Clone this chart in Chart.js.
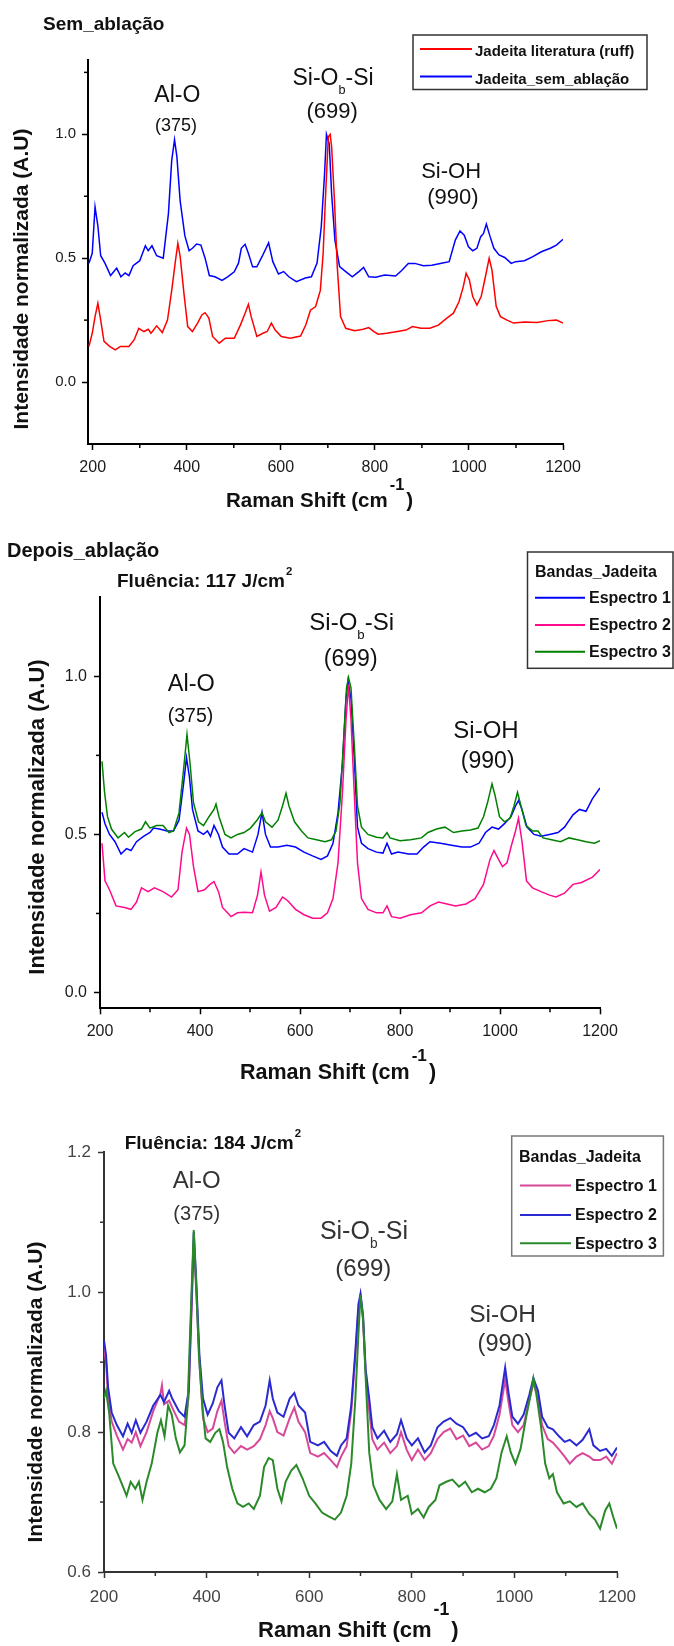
<!DOCTYPE html>
<html><head><meta charset="utf-8">
<script src="https://cdn.jsdelivr.net/npm/chart.js@4.4.0/dist/chart.umd.min.js"></script>
<style>
html,body{margin:0;padding:0;background:#fff;}
body{width:674px;height:1646px;position:relative;overflow:hidden;}
.panel{position:absolute;left:0;width:674px;}
</style></head><body>
<div class="panel" style="top:0;height:520px"><canvas id="c1"></canvas></div>
<div class="panel" style="top:520px;height:580px"><canvas id="c2"></canvas></div>
<div class="panel" style="top:1100px;height:546px"><canvas id="c3"></canvas></div>
<script>
// ---------- DATA ----------
const xTickVals = [200, 400, 600, 800, 1000, 1200];
const xMinorVals = [300, 500, 700, 900, 1100];
const y12TickVals = [0.0, 0.5, 1.0];
const y12TickLabels = ['0.0', '0.5', '1.0'];
const y1MinorVals = [0.25, 0.75, 1.25];
const y2MinorVals = [0.25, 0.75];
const y3TickVals = [0.6, 0.8, 1.0, 1.2];
const y3TickLabels = ['0.6', '0.8', '1.0', '1.2'];
const y3MinorVals = [0.7, 0.9, 1.1];

const p1Labels = ['Jadeita literatura (ruff)', 'Jadeita_sem_ablação'];
const specLabels = ['Espectro 1', 'Espectro 2', 'Espectro 3'];

// Panel 1 : Sem_ablação  [Raman shift, intensity]
const p1Red = [[192,0.144],[199,0.197],[205,0.264],[211,0.318],[217,0.25],[224,0.164],[236,0.144],[248,0.13],[259,0.144],[277,0.144],[288,0.17],[298,0.217],[309,0.204],[318,0.213],[324,0.197],[336,0.227],[348,0.20],[359,0.25],[368,0.37],[376,0.49],[381,0.56],[386,0.506],[394,0.358],[402,0.224],[412,0.204],[423,0.238],[432,0.271],[439,0.28],[447,0.258],[455,0.184],[469,0.157],[482,0.177],[501,0.177],[514,0.23],[524,0.278],[531,0.314],[537,0.264],[549,0.184],[562,0.197],[571,0.204],[580,0.238],[588,0.21],[601,0.184],[620,0.177],[642,0.186],[653,0.23],[663,0.29],[674,0.305],[684,0.37],[690,0.52],[695,0.748],[701,0.99],[705,1.0],[708,0.95],[714,0.735],[720,0.466],[727,0.264],[738,0.217],[757,0.207],[775,0.213],[787,0.22],[798,0.204],[807,0.193],[825,0.197],[848,0.204],[866,0.21],[880,0.224],[898,0.217],[917,0.217],[935,0.23],[953,0.258],[967,0.278],[979,0.325],[988,0.385],[994,0.439],[1001,0.412],[1008,0.345],[1017,0.311],[1026,0.345],[1035,0.425],[1043,0.50],[1049,0.452],[1058,0.305],[1067,0.264],[1081,0.25],[1095,0.238],[1118,0.242],[1145,0.24],[1168,0.248],[1186,0.25],[1200,0.238]];
const p1Blue = [[192,0.48],[199,0.52],[205,0.707],[211,0.63],[217,0.51],[226,0.48],[238,0.43],[251,0.46],[260,0.425],[269,0.44],[277,0.43],[286,0.47],[300,0.49],[312,0.55],[318,0.53],[326,0.55],[336,0.51],[350,0.50],[361,0.68],[368,0.895],[374,0.978],[379,0.91],[386,0.73],[396,0.59],[405,0.53],[412,0.54],[421,0.557],[430,0.553],[439,0.50],[448,0.43],[460,0.425],[475,0.41],[487,0.425],[501,0.445],[510,0.48],[516,0.54],[524,0.556],[531,0.52],[540,0.465],[549,0.465],[560,0.506],[574,0.562],[583,0.486],[595,0.436],[606,0.446],[617,0.425],[633,0.405],[652,0.42],[665,0.425],[677,0.48],[686,0.627],[693,0.84],[697,1.0],[703,0.96],[708,0.76],[715,0.573],[725,0.466],[738,0.446],[752,0.425],[766,0.446],[776,0.463],[787,0.425],[802,0.423],[821,0.432],[844,0.428],[857,0.45],[871,0.479],[885,0.479],[903,0.47],[921,0.472],[939,0.479],[958,0.486],[971,0.573],[981,0.61],[990,0.593],[999,0.546],[1008,0.53],[1017,0.54],[1025,0.587],[1031,0.60],[1037,0.638],[1045,0.587],[1053,0.54],[1064,0.513],[1076,0.503],[1090,0.479],[1099,0.486],[1118,0.49],[1136,0.506],[1154,0.526],[1173,0.54],[1186,0.553],[1200,0.576]];

// Panel 2 : Depois_ablação, 117 J/cm2
const p2Esp1 = [[204,0.57],[210,0.534],[219,0.50],[230,0.477],[242,0.438],[253,0.455],[262,0.449],[273,0.477],[287,0.494],[300,0.506],[307,0.52],[319,0.517],[334,0.511],[347,0.511],[358,0.545],[367,0.658],[373,0.743],[379,0.68],[385,0.579],[396,0.511],[407,0.50],[415,0.511],[421,0.494],[428,0.528],[437,0.50],[445,0.46],[458,0.438],[475,0.438],[488,0.455],[505,0.444],[516,0.50],[524,0.57],[531,0.50],[541,0.46],[556,0.46],[574,0.466],[591,0.46],[608,0.444],[625,0.432],[642,0.421],[655,0.432],[666,0.472],[676,0.568],[685,0.726],[692,0.93],[696,0.985],[702,0.93],[709,0.726],[715,0.523],[723,0.472],[736,0.455],[753,0.444],[766,0.441],[774,0.472],[783,0.438],[796,0.444],[817,0.438],[834,0.438],[847,0.46],[860,0.477],[881,0.472],[903,0.466],[924,0.46],[941,0.46],[958,0.472],[971,0.506],[984,0.523],[997,0.517],[1009,0.534],[1022,0.556],[1031,0.59],[1037,0.607],[1044,0.579],[1054,0.523],[1068,0.50],[1082,0.494],[1099,0.50],[1116,0.506],[1129,0.523],[1146,0.562],[1159,0.579],[1172,0.573],[1185,0.613],[1200,0.647]];
const p2Esp2 = [[204,0.472],[210,0.353],[219,0.325],[232,0.274],[249,0.269],[262,0.263],[273,0.286],[283,0.331],[296,0.319],[309,0.331],[326,0.319],[343,0.302],[356,0.325],[364,0.444],[373,0.52],[379,0.50],[387,0.398],[396,0.319],[409,0.325],[420,0.342],[428,0.351],[437,0.319],[445,0.269],[462,0.24],[475,0.252],[488,0.254],[505,0.252],[515,0.308],[522,0.381],[529,0.308],[539,0.257],[552,0.269],[565,0.302],[575,0.291],[591,0.263],[608,0.246],[625,0.235],[642,0.235],[655,0.252],[666,0.297],[676,0.41],[685,0.635],[692,0.861],[697,0.974],[702,0.861],[709,0.613],[715,0.41],[723,0.297],[736,0.263],[753,0.252],[766,0.252],[774,0.274],[783,0.24],[800,0.235],[821,0.246],[843,0.252],[860,0.274],[877,0.286],[894,0.28],[911,0.274],[932,0.28],[950,0.297],[967,0.342],[980,0.421],[988,0.449],[997,0.421],[1005,0.398],[1014,0.41],[1022,0.46],[1031,0.511],[1037,0.551],[1044,0.477],[1053,0.353],[1065,0.331],[1082,0.319],[1099,0.308],[1112,0.302],[1129,0.314],[1146,0.342],[1163,0.348],[1185,0.365],[1200,0.389]];
const p2Esp3 = [[204,0.731],[209,0.635],[215,0.556],[223,0.517],[236,0.489],[249,0.506],[257,0.491],[270,0.509],[283,0.517],[291,0.54],[300,0.52],[313,0.528],[326,0.528],[338,0.506],[347,0.511],[358,0.568],[367,0.703],[374,0.816],[380,0.726],[387,0.60],[397,0.54],[407,0.528],[418,0.556],[428,0.579],[432,0.596],[438,0.556],[450,0.50],[462,0.489],[475,0.50],[488,0.506],[501,0.52],[514,0.545],[524,0.568],[531,0.54],[544,0.523],[556,0.545],[565,0.59],[572,0.63],[578,0.59],[589,0.54],[603,0.511],[616,0.489],[633,0.483],[650,0.477],[663,0.483],[672,0.511],[680,0.60],[687,0.793],[693,0.963],[697,0.997],[702,0.963],[709,0.771],[715,0.59],[723,0.523],[736,0.50],[753,0.491],[766,0.489],[774,0.506],[780,0.489],[800,0.48],[821,0.483],[843,0.489],[856,0.506],[873,0.517],[890,0.523],[907,0.506],[924,0.511],[941,0.514],[956,0.52],[967,0.556],[975,0.60],[984,0.66],[990,0.624],[999,0.556],[1009,0.54],[1020,0.551],[1028,0.59],[1035,0.633],[1042,0.59],[1052,0.528],[1065,0.511],[1076,0.511],[1086,0.489],[1103,0.483],[1121,0.477],[1138,0.489],[1155,0.483],[1172,0.477],[1189,0.472],[1200,0.48]];

// Panel 3 : 184 J/cm2
const p3Esp1 = [[200,0.92],[204,0.90],[208,0.85],[215,0.815],[225,0.795],[237,0.775],[246,0.79],[254,0.785],[262,0.80],[271,0.78],[283,0.80],[296,0.83],[310,0.855],[313,0.867],[317,0.84],[327,0.845],[333,0.835],[346,0.815],[357,0.81],[365,0.85],[371,0.98],[375,1.07],[380,1.0],[386,0.90],[393,0.82],[402,0.80],[412,0.805],[421,0.83],[429,0.845],[435,0.815],[443,0.78],[454,0.77],[467,0.78],[479,0.775],[492,0.78],[504,0.79],[515,0.81],[523,0.83],[529,0.82],[538,0.80],[550,0.795],[562,0.82],[571,0.835],[579,0.815],[592,0.80],[602,0.77],[617,0.765],[629,0.77],[642,0.76],[654,0.75],[662,0.765],[673,0.78],[682,0.83],[690,0.91],[696,0.975],[700,0.995],[705,0.96],[710,0.885],[717,0.83],[723,0.79],[733,0.775],[746,0.785],[758,0.77],[771,0.78],[779,0.80],[790,0.775],[800,0.76],[812,0.775],[825,0.76],[837,0.77],[850,0.79],[862,0.80],[875,0.805],[887,0.79],[900,0.795],[912,0.78],[925,0.785],[937,0.775],[950,0.78],[960,0.795],[971,0.825],[982,0.875],[988,0.845],[996,0.81],[1007,0.80],[1018,0.81],[1029,0.845],[1037,0.87],[1046,0.85],[1054,0.81],[1065,0.79],[1075,0.785],[1087,0.775],[1098,0.765],[1108,0.755],[1121,0.765],[1133,0.77],[1146,0.765],[1154,0.76],[1167,0.76],[1179,0.765],[1190,0.755],[1200,0.77]];
const p3Esp2 = [[200,0.931],[204,0.91],[208,0.864],[215,0.828],[225,0.81],[237,0.794],[246,0.812],[254,0.799],[262,0.817],[271,0.799],[283,0.815],[296,0.838],[310,0.853],[317,0.843],[327,0.859],[333,0.848],[346,0.83],[357,0.822],[365,0.859],[371,0.993],[375,1.086],[380,1.014],[386,0.91],[393,0.848],[402,0.825],[412,0.841],[421,0.864],[429,0.874],[435,0.838],[443,0.799],[454,0.791],[467,0.807],[479,0.794],[492,0.81],[504,0.815],[515,0.838],[523,0.874],[529,0.848],[538,0.828],[550,0.822],[562,0.848],[571,0.856],[579,0.838],[592,0.828],[602,0.786],[617,0.781],[629,0.786],[642,0.773],[654,0.766],[662,0.781],[673,0.791],[682,0.838],[690,0.916],[696,0.983],[700,0.998],[705,0.967],[710,0.89],[717,0.848],[723,0.807],[733,0.791],[746,0.802],[758,0.786],[771,0.797],[779,0.817],[790,0.791],[800,0.781],[812,0.791],[825,0.771],[837,0.781],[850,0.807],[862,0.815],[875,0.82],[887,0.812],[900,0.807],[912,0.794],[925,0.799],[937,0.791],[950,0.794],[960,0.81],[971,0.838],[982,0.892],[988,0.859],[996,0.822],[1007,0.812],[1018,0.825],[1029,0.853],[1037,0.877],[1046,0.859],[1054,0.822],[1065,0.807],[1075,0.804],[1087,0.794],[1098,0.786],[1108,0.789],[1121,0.781],[1133,0.789],[1146,0.804],[1154,0.781],[1167,0.773],[1179,0.776],[1190,0.766],[1200,0.778]];
const p3Esp3 = [[200,0.848],[204,0.859],[210,0.828],[218,0.755],[227,0.74],[236,0.724],[244,0.709],[252,0.729],[261,0.719],[268,0.729],[275,0.703],[283,0.729],[293,0.755],[304,0.799],[311,0.817],[318,0.794],[325,0.838],[332,0.825],[340,0.791],[348,0.771],[357,0.781],[363,0.838],[369,0.967],[375,1.089],[380,1.004],[385,0.91],[392,0.835],[398,0.791],[407,0.786],[417,0.799],[425,0.804],[432,0.786],[440,0.75],[450,0.719],[460,0.698],[471,0.693],[482,0.698],[492,0.69],[504,0.709],[512,0.75],[521,0.763],[529,0.76],[538,0.719],[546,0.701],[554,0.729],[565,0.745],[575,0.753],[587,0.734],[600,0.709],[612,0.698],[625,0.685],[637,0.68],[650,0.675],[662,0.685],[673,0.709],[682,0.755],[690,0.848],[696,0.941],[700,0.996],[705,0.962],[710,0.879],[717,0.771],[725,0.724],[737,0.703],[750,0.69],[762,0.701],[771,0.74],[779,0.703],[792,0.709],[800,0.683],[812,0.69],[823,0.678],[833,0.693],[846,0.703],[854,0.724],[867,0.729],[879,0.732],[892,0.722],[904,0.729],[917,0.714],[929,0.719],[942,0.714],[954,0.719],[965,0.734],[975,0.771],[985,0.794],[993,0.771],[1002,0.755],[1012,0.776],[1023,0.822],[1033,0.859],[1037,0.877],[1043,0.853],[1052,0.807],[1060,0.755],[1068,0.734],[1075,0.74],[1083,0.714],[1096,0.698],[1108,0.701],[1121,0.693],[1133,0.698],[1146,0.683],[1157,0.675],[1167,0.662],[1177,0.688],[1185,0.698],[1193,0.678],[1200,0.662]];

// ---------- RENDERING ----------
const FONT = '"Liberation Sans", Arial, Helvetica, sans-serif';
const W = 674;
function setFont(ctx, size, bold) { ctx.font = (bold ? 'bold ' : '') + size + 'px ' + FONT; }
function text(ctx, s, x, y, size, bold, color, align) {
  ctx.save(); setFont(ctx, size, bold); ctx.fillStyle = color;
  ctx.textAlign = align || 'left'; ctx.textBaseline = 'middle'; ctx.fillText(s, x, y); ctx.restore();
}
function tw(ctx, s, size, bold) { ctx.save(); setFont(ctx, size, bold); const w = ctx.measureText(s).width; ctx.restore(); return w; }
function toXY(arr) { return arr.map(p => ({ x: p[0], y: p[1] })); }

const decorPlugin = {
  id: 'decor',
  afterDraw(chart) {
    const d = chart.options.plugins.decor;
    const ctx = chart.ctx, xs = chart.scales.x, ys = chart.scales.y, a = chart.chartArea;
    ctx.save(); ctx.strokeStyle = d.axisColor; ctx.lineWidth = 1.5;
    d.xMinor.forEach(v => { const px = xs.getPixelForValue(v); ctx.beginPath(); ctx.moveTo(px, a.bottom); ctx.lineTo(px, a.bottom + 4); ctx.stroke(); });
    d.yMinor.forEach(v => { const py = ys.getPixelForValue(v); ctx.beginPath(); ctx.moveTo(a.left, py); ctx.lineTo(a.left - 4, py); ctx.stroke(); });
    ctx.restore();
    (d.titles || []).forEach(t => {
      text(ctx, t.text, t.x, t.y, t.size, true, '#111');
      if (t.sup) { const w = tw(ctx, t.text, t.size, true); text(ctx, t.sup, t.x + w + 1, t.y - t.size * 0.5, t.size * 0.6, true, '#111'); }
    });
    d.notes.forEach(n => {
      const cx = xs.getPixelForValue(n.x), cy = ys.getPixelForValue(n.y);
      const parts = n.parts;
      let total = 0;
      parts.forEach(p => { p.w = tw(ctx, p.t, p.sub ? n.size * 0.55 : n.size, false); total += p.w; });
      let x = cx - total / 2;
      parts.forEach(p => {
        if (p.sub) text(ctx, p.t, x, cy + n.size * 0.5, n.size * 0.55, false, d.noteColor);
        else text(ctx, p.t, x, cy, n.size, false, d.noteColor);
        x += p.w;
      });
    });
    const xt = d.xTitle;
    const w1 = tw(ctx, 'Raman Shift (cm', xt.size, true);
    text(ctx, 'Raman Shift (cm', xt.x, xt.y, xt.size, true, '#111');
    const supSize = xt.size * 0.8;
    text(ctx, '-1', xt.x + w1 + 2, xt.y - xt.dy, supSize, true, '#111');
    const w2 = tw(ctx, '-1', supSize, true);
    text(ctx, ')', xt.x + w1 + 4 + w2, xt.y, xt.size, true, '#111');
    ctx.save(); ctx.translate(d.yTitle.x, d.yTitle.y); ctx.rotate(-Math.PI / 2);
    text(ctx, 'Intensidade normalizada (A.U)', 0, 0, d.yTitle.size, true, '#111', 'center');
    ctx.restore();
    const L = d.legend;
    ctx.save(); ctx.strokeStyle = L.border; ctx.lineWidth = 1.5;
    ctx.strokeRect(L.l, L.t, L.r - L.l, L.b - L.t); ctx.restore();
    if (L.title) text(ctx, L.title, L.title_x, L.title_y, L.size, true, '#111');
    L.items.forEach(it => {
      ctx.save(); ctx.strokeStyle = it.color; ctx.lineWidth = 2;
      ctx.beginPath(); ctx.moveTo(L.x1, it.y); ctx.lineTo(L.x2, it.y); ctx.stroke(); ctx.restore();
      text(ctx, it.label, L.tx, it.y + L.dy, L.size, true, '#111');
    });
  }
};

function makeChart(id, H, area, xr, yr, yTicks, yLabels, tickFont, datasets, decor) {
  const axisColor = decor.axisColor;
  return new Chart(document.getElementById(id), {
    type: 'line',
    data: { datasets },
    plugins: [decorPlugin],
    options: {
      responsive: true, maintainAspectRatio: false, animation: false, devicePixelRatio: 1,
      layout: { padding: { left: 0, top: area.t, right: W - area.r, bottom: 0 } },
      elements: { point: { radius: 0 }, line: { tension: 0 } },
      plugins: { legend: { display: false }, tooltip: { enabled: false }, decor },
      scales: {
        x: {
          type: 'linear', min: xr[0], max: xr[1],
          afterFit: s => { s.height = H - area.b; },
          afterBuildTicks: s => { s.ticks = xTickVals.map(v => ({ value: v })); },
          ticks: { color: tickFont.color, font: { family: FONT, size: tickFont.x }, padding: tickFont.xPad, maxRotation: 0, autoSkip: false, callback: v => String(v) },
          grid: { display: true, drawOnChartArea: false, drawTicks: true, tickLength: 6, tickWidth: 1.5, tickColor: axisColor },
          border: { display: true, color: axisColor, width: 2 }
        },
        y: {
          type: 'linear', min: yr[0], max: yr[1],
          afterFit: s => { s.width = area.l; },
          afterBuildTicks: s => { s.ticks = yTicks.map(v => ({ value: v })); },
          ticks: { color: tickFont.color, font: { family: FONT, size: tickFont.y }, padding: tickFont.yPad, autoSkip: false, callback: v => yLabels[yTicks.findIndex(t => Math.abs(t - v) < 1e-6)] },
          grid: { display: true, drawOnChartArea: false, drawTicks: true, tickLength: 6, tickWidth: 1.5, tickColor: axisColor },
          border: { display: true, color: axisColor, width: 2 }
        }
      }
    }
  });
}

function siob(size, x, y) { return { x, y, size, parts: [{ t: 'Si-O' }, { t: 'b', sub: true }, { t: '-Si' }] }; }
function plain(s, size, x, y) { return { x, y, size, parts: [{ t: s }] }; }

// Panel 1
makeChart('c1', 520, { l: 88, r: 563, t: 60, b: 444 }, [190, 1200], [-0.25, 1.3], y12TickVals, y12TickLabels,
  { x: 16, y: 15, color: '#1a1a1a', xPad: 8, yPad: 6 },
  [
    { data: toXY(p1Blue), borderColor: '#0000ff', borderWidth: 1.5, order: 2 },
    { data: toXY(p1Red), borderColor: '#ff0000', borderWidth: 1.5, order: 1 }
  ],
  {
    axisColor: '#000', noteColor: '#111', xMinor: xMinorVals, yMinor: y1MinorVals,
    titles: [{ text: 'Sem_ablação', x: 43, y: 25, size: 19 }],
    notes: [plain('Al-O', 23, 380, 1.155), plain('(375)', 18, 377, 1.034), siob(23, 711, 1.225), plain('(699)', 22, 709, 1.09), plain('Si-OH', 22, 962, 0.849), plain('(990)', 22, 966, 0.743)],
    xTitle: { x: 226, y: 501, size: 20.5, dy: 16 },
    yTitle: { x: 22, y: 279, size: 21 },
    legend: { l: 413, t: 35, r: 647, b: 89.5, border: '#333', size: 15, x1: 420, x2: 472, tx: 475, dy: 3,
      items: [{ label: p1Labels[0], color: '#ff0000', y: 49 }, { label: p1Labels[1], color: '#0000ff', y: 76.5 }] }
  });

// Panel 2
makeChart('c2', 580, { l: 100, r: 600, t: 77.3, b: 488.3 }, [200, 1200], [-0.05, 1.25], y12TickVals, y12TickLabels,
  { x: 16, y: 16, color: '#1a1a1a', xPad: 8, yPad: 7 },
  [
    { data: toXY(p2Esp2), borderColor: '#ff0a8c', borderWidth: 1.5, order: 1 },
    { data: toXY(p2Esp3), borderColor: '#008000', borderWidth: 1.5, order: 2 },
    { data: toXY(p2Esp1), borderColor: '#0000ff', borderWidth: 1.5, order: 3 }
  ],
  {
    axisColor: '#000', noteColor: '#111', xMinor: xMinorVals, yMinor: y2MinorVals,
    titles: [{ text: 'Depois_ablação', x: 7, y: 31.7, size: 20 }, { text: 'Fluência: 117 J/cm', sup: '2', x: 117, y: 61.7, size: 19 }],
    notes: [plain('Al-O', 23.5, 382.6, 0.973), plain('(375)', 19.5, 381, 0.872), siob(24, 703.4, 1.168), plain('(699)', 23, 701.4, 1.052), plain('Si-OH', 24, 972, 0.825), plain('(990)', 23, 975.4, 0.73)],
    xTitle: { x: 240, y: 553.3, size: 21.5, dy: 17.5 },
    yTitle: { x: 37.5, y: 297, size: 22 },
    legend: { l: 527.5, t: 32, r: 673, b: 148.3, border: '#333', size: 16, title: 'Bandas_Jadeita', title_x: 535, title_y: 52.5,
      x1: 535, x2: 585, tx: 589, dy: 1,
      items: [{ label: specLabels[0], color: '#0000ff', y: 77.8 }, { label: specLabels[1], color: '#ff0a8c', y: 105 }, { label: specLabels[2], color: '#008000', y: 131.7 }] }
  });

// Panel 3
makeChart('c3', 546, { l: 104, r: 617, t: 52.3, b: 472 }, [200, 1200], [0.6, 1.2], y3TickVals, y3TickLabels,
  { x: 17, y: 17, color: '#444', xPad: 9, yPad: 7 },
  [
    { data: toXY(p3Esp3), borderColor: '#2a8a2a', borderWidth: 2, order: 1 },
    { data: toXY(p3Esp2), borderColor: '#2a2ad0', borderWidth: 2, order: 2 },
    { data: toXY(p3Esp1), borderColor: '#d8489a', borderWidth: 2, order: 3 }
  ],
  {
    axisColor: '#333', noteColor: '#333', xMinor: xMinorVals, yMinor: y3MinorVals,
    titles: [{ text: 'Fluência: 184 J/cm', sup: '2', x: 124.7, y: 43.3, size: 19 }],
    notes: [plain('Al-O', 24, 380.7, 1.158), plain('(375)', 20, 380.7, 1.111), siob(25, 706.8, 1.0865), plain('(699)', 24, 705.5, 1.033), plain('Si-OH', 24.5, 977, 0.967), plain('(990)', 23.5, 981.7, 0.925)],
    xTitle: { x: 258, y: 530.5, size: 22, dy: 20 },
    yTitle: { x: 36.5, y: 292, size: 21 },
    legend: { l: 511.7, t: 36, r: 663.4, b: 156, border: '#777', size: 16, title: 'Bandas_Jadeita', title_x: 519, title_y: 57.6,
      x1: 520, x2: 571, tx: 575, dy: 1,
      items: [{ label: specLabels[0], color: '#d8489a', y: 85.4 }, { label: specLabels[1], color: '#2a2ad0', y: 115 }, { label: specLabels[2], color: '#2a8a2a', y: 143.3 }] }
  });
</script>
</body></html>
